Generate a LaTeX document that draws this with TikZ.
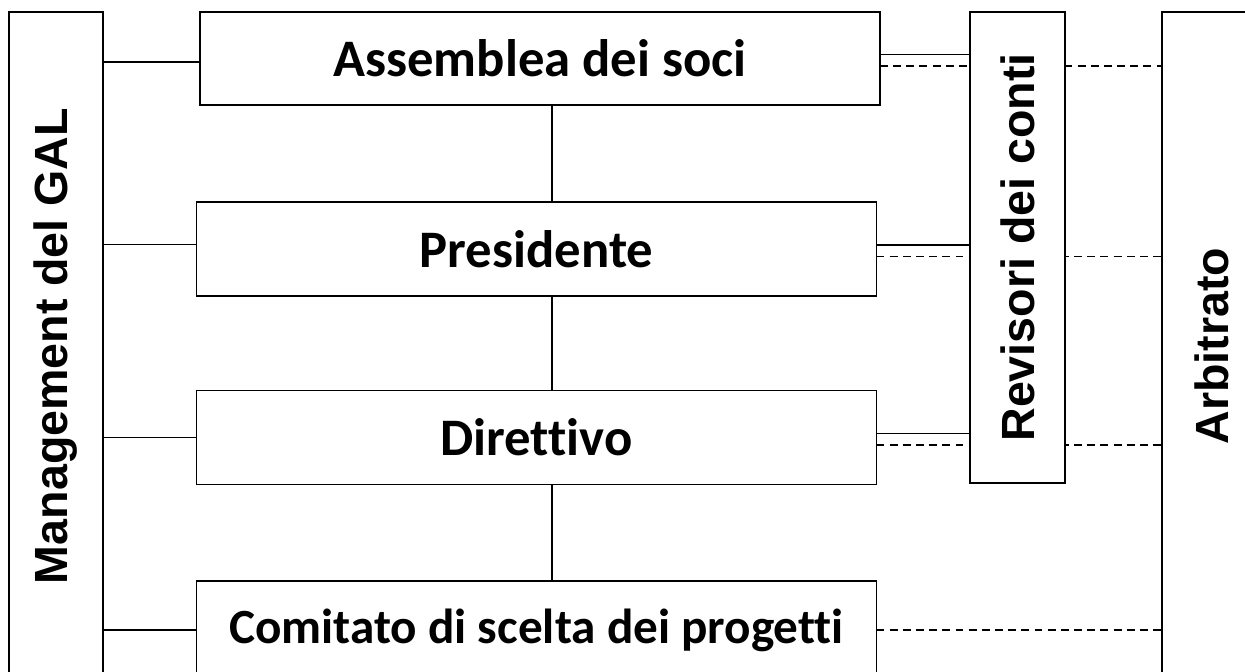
\documentclass[tikz,border=0pt]{standalone}
\usepackage{fontspec}
\setmainfont{Carlito}[Ligatures = NoCommon]
\newfontfamily\sidefont{Liberation Sans}
\usepackage{graphicx}
\usetikzlibrary{positioning,calc}
\pgfdeclarelayer{bg}
\pgfsetlayers{bg,main}

\begin{document}
\begin{tikzpicture}[x = .02cm, y = -.02cm,
    organ/.style = {draw, line width = .8pt, fill = white, inner sep = 0pt, outer sep = 0pt,
        minimum width = 13.6cm, minimum height = 1.88cm, font = \fontsize{30}{36}\selectfont\bfseries},
    side/.style = {draw, line width = .8pt, fill = white, inner sep = 0pt, outer sep = 0pt,
        minimum width = 1.9cm, font = \sidefont\fontsize{26.5}{31}\selectfont\bfseries},
    link/.style = {line width = .8pt},
    ctrl/.style = {line width = .8pt, dash pattern = on 4.5pt off 3pt}]
    \clip (0,0) rectangle (1245,672);
    \node[side, minimum width = 1.88cm, minimum height = 13.36cm] (mgmt) at (56,346) {\rotatebox{90}{Management del GAL}};
    \node[organ, minimum width = 13.6cm, minimum height = 1.86cm] (ass) at (540,58.5) {Assemblea dei soci};
    \node[organ] (pres) at (536.5,249) {Presidente};
    \node[organ] (dir) at (536.5,437.5) {Direttivo};
    \node[organ, minimum height = 1.96cm, font = \fontsize{28}{34}\selectfont\bfseries] (com) at (536.5,630) {Comitato di scelta dei progetti};
    \node[side, minimum height = 9.42cm] (rev) at (1017.5,247.5) {\rotatebox{90}{Revisori dei conti}};
    \node[side, minimum width = 2cm, minimum height = 13.36cm] (arb) at (1212,346) {\rotatebox{90}{Arbitrato}};
    \coordinate (spine) at (552,0);
    % management to the organs
    \draw[link] ([yshift = -2pt]mgmt.east |- ass.west) -- ([yshift = -2pt]ass.west);
    \draw[link] ([yshift = 2.5pt]mgmt.east |- pres.west) -- ([yshift = 2.5pt]pres.west);
    \draw[link] (mgmt.east |- dir.west) -- (dir.west);
    \draw[link] (mgmt.east |- com.west) -- (com.west);
    % chain of the organs
    \draw[link] (spine |- ass.south) -- (spine |- pres.north);
    \draw[link] (spine |- pres.south) -- (spine |- dir.north);
    \draw[link] (spine |- dir.south) -- (spine |- com.north);
    % auditors and arbitration
    \foreach \o in {ass, pres, dir} {
        \draw[link] ([yshift = 2.3pt]\o.east) -- ([yshift = 2.3pt]\o.east -| rev.west);
        \begin{pgfonlayer}{bg}
            \draw[ctrl] ([yshift = -4.3pt]\o.east) -- ([yshift = -4.3pt]\o.east -| arb.west);
        \end{pgfonlayer}
    }
    \draw[ctrl] (com.east) -- (com.east -| arb.west);
\end{tikzpicture}
\end{document}
